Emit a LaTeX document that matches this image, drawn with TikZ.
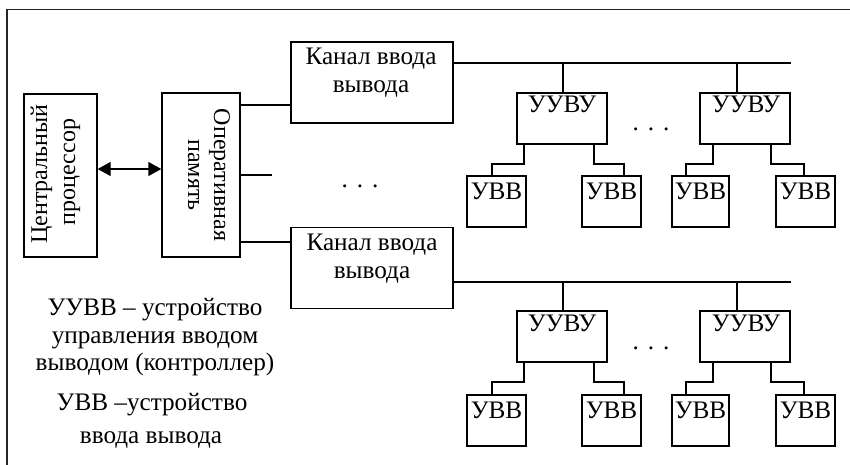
\documentclass[tikz,border=0pt]{standalone}
\usepackage{fontspec}
\setmainfont{Liberation Serif}
\usetikzlibrary{arrows.meta,calc}
\begin{document}
\begin{tikzpicture}[x=1pt,y=-1pt,
  box/.style={draw, line width=1.4pt, rectangle, inner sep=0pt},
  wire/.style={draw, line width=1.4pt},
  txt/.style={inner sep=0pt, font=\fontsize{25.2}{29}\selectfont},
  rtxt/.style={inner sep=0pt, font=\fontsize{24}{28}\selectfont},
  uuvu/.style={box, minimum width=90pt, minimum height=51pt},
  uvb/.style={box, minimum width=59pt, minimum height=51pt},
  kanal/.style={box, minimum width=162pt, minimum height=81pt}]
\useasboundingbox (0,0) rectangle (850,465);
% frame
\coordinate (fbl) at (7,465);
\coordinate (ftl) at (7,9.5);
\coordinate (ftr) at (850,9.5);
\draw[line width=1.8pt, black!85] (fbl) -- (ftl) -- (ftr);

% CPU and memory
\node[box, minimum width=73pt, minimum height=163pt] (cpu) at (60.5,175.5) {};
\node[rtxt, rotate=90, anchor=base] (cpu1) at (47,174) {Центральный};
\node[rtxt, rotate=90, anchor=base] (cpu2) at (75,172) {процессор};
\node[box, minimum width=78pt, minimum height=164pt] (mem) at (201,175) {};
\node[rtxt, rotate=-90, anchor=base] (mem1) at (214,175) {Оперативная};
\node[rtxt, rotate=-90, anchor=base] (mem2) at (188,175) {память};
\draw[line width=1.4pt, {Triangle[length=13pt,width=14pt]}-{Triangle[length=13pt,width=14pt]}]
  (cpu.east |- 0,169) -- (mem.west |- 0,169);

% channels
\node[kanal] (k1) at (372,82.5) {};
\node[txt, anchor=base] (k1a) at (371,65) {Канал ввода};
\node[txt, anchor=base] (k1b) at (371,93) {вывода};
\node[kanal] (k2) at (372,268) {};
\node[txt, anchor=base] (k2a) at (372,250) {Канал ввода};
\node[txt, anchor=base] (k2b) at (372,278) {вывода};

\draw[wire] (mem.east |- 0,105) -- (k1.west |- 0,105);
\coordinate (stub) at (272,175);
\draw[wire] (mem.east |- stub) -- (stub);
\node[txt, anchor=base] (dotsm) at (360,187) {.\hspace{9pt}.\hspace{9pt}.};
\draw[wire] (mem.east |- 0,242) -- (k2.west |- 0,242);

% group 1
\coordinate (bus1e) at (791,63);
\draw[wire] (k1.east |- bus1e) -- (bus1e);
\node[uuvu] (a1) at (562,118.5) {};
\node[txt, anchor=base] (a1t) at (562,113) {УУВУ};
\node[uuvu] (a2) at (745,118.5) {};
\node[txt, anchor=base] (a2t) at (746,113) {УУВУ};
\node[txt, anchor=base] (dots1) at (651,131) {.\hspace{9pt}.\hspace{9pt}.};
\draw[wire] (563,63) -- (a1.north -| 563,0);
\draw[wire] (737,63) -- (a2.north -| 737,0);
\node[uvb] (b1) at (496.5,201.5) {};
\node[uvb] (b2) at (611.5,201.5) {};
\node[uvb, minimum width=57pt] (b3) at (700.5,201.5) {};
\node[uvb] (b4) at (805.5,201.5) {};
\foreach \n in {b1,b2,b3,b4}{
  \node[txt, anchor=base] (\n t) at ($(\n.north)+(0,24)$) {УВВ};
}
\draw[wire] (a1.south -| 524,0) |- (492,164) -- (b1.north -| 492,0);
\draw[wire] (a1.south -| 594,0) |- (624,164) -- (b2.north -| 624,0);
\draw[wire] (a2.south -| 713,0) |- (686,164) -- (b3.north -| 686,0);
\draw[wire] (a2.south -| 771,0) |- (804,164) -- (b4.north -| 804,0);

% group 2
\coordinate (bus2e) at (791,282);
\draw[wire] (k2.east |- bus2e) -- (bus2e);
\node[uuvu] (c1) at (562,336.5) {};
\node[txt, anchor=base] (c1t) at (562,331) {УУВУ};
\node[uuvu] (c2) at (745,336.5) {};
\node[txt, anchor=base] (c2t) at (746,331) {УУВУ};
\node[txt, anchor=base] (dots2) at (651,349) {.\hspace{9pt}.\hspace{9pt}.};
\draw[wire] (563,282) -- (c1.north -| 563,0);
\draw[wire] (737,282) -- (c2.north -| 737,0);
\node[uvb] (d1) at (496.5,420.5) {};
\node[uvb] (d2) at (611.5,420.5) {};
\node[uvb, minimum width=57pt] (d3) at (700.5,420.5) {};
\node[uvb] (d4) at (805.5,420.5) {};
\foreach \n in {d1,d2,d3,d4}{
  \node[txt, anchor=base] (\n t) at ($(\n.north)+(0,24)$) {УВВ};
}
\draw[wire] (c1.south -| 524,0) |- (492,382) -- (d1.north -| 492,0);
\draw[wire] (c1.south -| 594,0) |- (624,382) -- (d2.north -| 624,0);
\draw[wire] (c2.south -| 713,0) |- (686,382) -- (d3.north -| 686,0);
\draw[wire] (c2.south -| 771,0) |- (804,382) -- (d4.north -| 804,0);

% legend
\node[txt, anchor=base] (l1) at (155,315) {УУВВ – устройство};
\node[txt, anchor=base] (l2) at (155,343) {управления вводом};
\node[txt, anchor=base] (l3) at (155,370) {выводом (контроллер)};
\node[txt, anchor=base] (l4) at (152,410) {УВВ –устройство};
\node[txt, anchor=base] (l5) at (151,443) {ввода вывода};
\end{tikzpicture}
\end{document}
